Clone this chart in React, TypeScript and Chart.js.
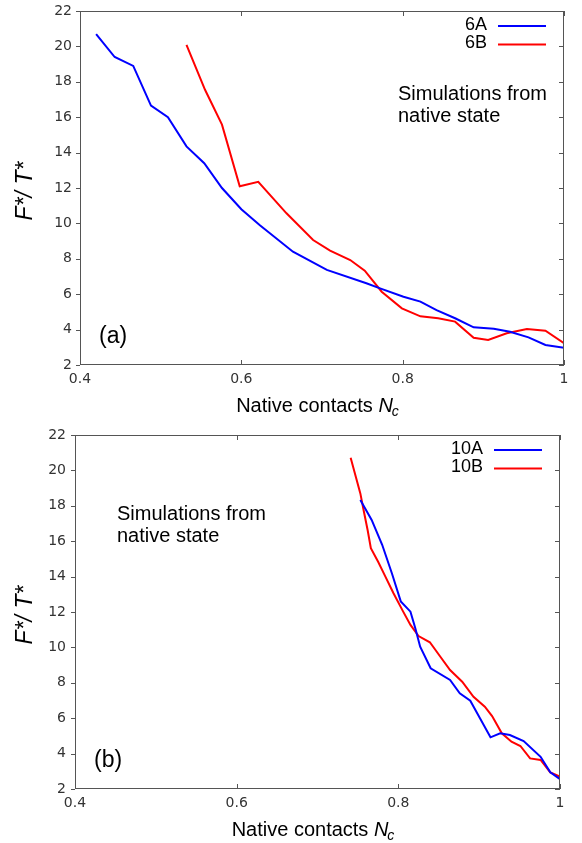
import React, { useEffect, useRef } from "react";
import { Chart, registerables } from "chart.js";
Chart.register(...registerables);

// ---- tick labels ----
const xTicks = [0.4, 0.6, 0.8, 1];
const yTicks = [2, 4, 6, 8, 10, 12, 14, 16, 18, 20, 22];

// ---- panel (a) ----
const nc6A = [0.42, 0.443, 0.466, 0.488, 0.509, 0.532, 0.554, 0.576, 0.6, 0.623, 0.664, 0.706, 0.755, 0.772, 0.801, 0.822, 0.842, 0.865, 0.888, 0.913, 0.933, 0.956, 0.977, 1.0];
const f6A = [20.7, 19.4, 18.9, 16.65, 16.0, 14.35, 13.4, 12.0, 10.8, 9.9, 8.4, 7.37, 6.62, 6.33, 5.86, 5.58, 5.1, 4.64, 4.13, 4.05, 3.88, 3.56, 3.13, 2.98];
const nc6B = [0.532, 0.555, 0.576, 0.598, 0.621, 0.656, 0.689, 0.71, 0.735, 0.753, 0.774, 0.799, 0.822, 0.844, 0.865, 0.888, 0.906, 0.929, 0.954, 0.977, 1.0];
const f6B = [20.08, 17.55, 15.58, 12.1, 12.35, 10.57, 9.06, 8.46, 7.93, 7.33, 6.14, 5.2, 4.75, 4.64, 4.45, 3.54, 3.41, 3.79, 4.03, 3.94, 3.23];

// ---- panel (b) ----
const nc10A = [0.753, 0.767, 0.78, 0.792, 0.803, 0.815, 0.821, 0.827, 0.84, 0.864, 0.876, 0.889, 0.901, 0.914, 0.926, 0.938, 0.955, 0.976, 0.988, 1.0];
const f10A = [18.33, 17.2, 15.8, 14.19, 12.6, 12.02, 11.08, 10.04, 8.82, 8.16, 7.41, 6.99, 6.0, 4.92, 5.15, 5.05, 4.71, 3.82, 2.94, 2.56];
const nc10B = [0.741, 0.753, 0.757, 0.762, 0.766, 0.775, 0.784, 0.794, 0.806, 0.815, 0.825, 0.839, 0.852, 0.864, 0.879, 0.893, 0.907, 0.916, 0.928, 0.94, 0.951, 0.963, 0.976, 0.988, 1.0];
const f10B = [20.72, 18.7, 17.76, 16.63, 15.6, 14.84, 14.0, 13.06, 12.02, 11.27, 10.64, 10.29, 9.47, 8.72, 8.06, 7.21, 6.65, 6.12, 5.15, 4.67, 4.43, 3.73, 3.64, 2.94, 2.7];

// ---- texts ----
const seriesNamesA = ["6A", "6B"];
const seriesNamesB = ["10A", "10B"];
const panelLabels = ["(a)", "(b)"];
const noteLines = ["Simulations from", "native state"];
const yTitle = "F*/ T*";
const xTitleMain = "Native contacts ";
const xTitleVar = "N";
const xTitleSub = "c";

const SANS = '"Liberation Sans", Arial, sans-serif';

type PanelCfg = {
  height: number;
  topPad: number;
  rightPad: number;
  yW: number;
  xH: number;
  names: string[];
  xs: number[][];
  ys: number[][];
  label: string;
  noteDx: number; // from chartArea.left
  noteDy: number; // from chartArea.top
  yPad: number;
};

const decorPlugin = (cfg: PanelCfg) => ({
  id: "decor",
  afterDraw(chart: any) {
    const ctx: CanvasRenderingContext2D = chart.ctx;
    const a = chart.chartArea;
    const xs = chart.scales.x;
    const ys = chart.scales.y;
    ctx.save();
    // frame
    ctx.strokeStyle = "#555";
    ctx.lineWidth = 1;
    ctx.strokeRect(Math.round(a.left) + 0.5, Math.round(a.top) + 0.5, Math.round(a.right - a.left) - 1, Math.round(a.bottom - a.top) - 1);
    ctx.beginPath();
    xTicks.forEach((v) => {
      const p = Math.round(xs.getPixelForValue(v)) + 0.5;
      ctx.moveTo(p, a.bottom);
      ctx.lineTo(p, a.bottom - 5);
      ctx.moveTo(p, a.top);
      ctx.lineTo(p, a.top + 5);
    });
    yTicks.forEach((v) => {
      const p = Math.round(ys.getPixelForValue(v)) + 0.5;
      ctx.moveTo(a.left, p);
      ctx.lineTo(a.left - 4, p);
      ctx.moveTo(a.right, p);
      ctx.lineTo(a.right - 5, p);
    });
    ctx.stroke();

    // legend
    ctx.font = `18px ${SANS}`;
    ctx.textAlign = "right";
    ctx.textBaseline = "middle";
    chart.data.datasets.forEach((ds: any, i: number) => {
      const cy = a.top + 14 + i * 18.5;
      ctx.fillStyle = "#000";
      ctx.fillText(ds.label, a.right - 77, cy);
      ctx.strokeStyle = ds.borderColor;
      ctx.lineWidth = 2;
      ctx.beginPath();
      ctx.moveTo(a.right - 66, cy + 1);
      ctx.lineTo(a.right - 18, cy + 1);
      ctx.stroke();
    });

    // note
    ctx.font = `20px ${SANS}`;
    ctx.textAlign = "left";
    ctx.fillStyle = "#000";
    noteLines.forEach((t, i) => {
      ctx.fillText(t, a.left + cfg.noteDx, a.top + cfg.noteDy + i * 22.5);
    });

    // panel label
    ctx.font = `23px ${SANS}`;
    ctx.fillText(cfg.label, a.left + 19, a.bottom - 28);

    // y title
    ctx.save();
    ctx.translate(26, (a.top + a.bottom) / 2 + 3);
    ctx.rotate(-Math.PI / 2);
    ctx.font = `italic 23px ${SANS}`;
    ctx.textAlign = "center";
    ctx.fillText(yTitle, 0, 0);
    ctx.restore();

    // x title
    const fMain = `20px ${SANS}`;
    const fVar = `italic 20px ${SANS}`;
    const fSub = `italic 14px ${SANS}`;
    ctx.font = fMain;
    const w1 = ctx.measureText(xTitleMain).width;
    ctx.font = fVar;
    const w2 = ctx.measureText(xTitleVar).width;
    ctx.font = fSub;
    const w3 = ctx.measureText(xTitleSub).width;
    const total = w1 + w2 + w3;
    let x0 = (a.left + a.right) / 2 - 4 - total / 2;
    const yBase = a.bottom + 47;
    ctx.textAlign = "left";
    ctx.textBaseline = "alphabetic";
    ctx.font = fMain;
    ctx.fillText(xTitleMain, x0, yBase);
    x0 += w1;
    ctx.font = fVar;
    ctx.fillText(xTitleVar, x0, yBase);
    x0 += w2;
    ctx.font = fSub;
    ctx.fillText(xTitleSub, x0 - 1, yBase + 4);
    ctx.restore();
  },
});

function Panel({ cfg }: { cfg: PanelCfg }) {
  const ref = useRef<HTMLCanvasElement | null>(null);
  useEffect(() => {
    if (!ref.current) return;
    const colors = ["#0000ff", "#ff0000"];
    const chart = new Chart(ref.current, {
      type: "line",
      data: {
        datasets: cfg.names.map((n, i) => ({
          label: n,
          data: cfg.xs[i].map((x, j) => ({ x, y: cfg.ys[i][j] })),
          borderColor: colors[i],
          backgroundColor: colors[i],
          borderWidth: 2,
          pointRadius: 0,
          tension: 0,
          fill: false,
        })),
      },
      options: {
        responsive: false,
        animation: false,
        devicePixelRatio: 1,
        layout: { padding: { top: cfg.topPad, right: cfg.rightPad, left: 0, bottom: 0 } },
        plugins: { legend: { display: false }, tooltip: { enabled: false }, title: { display: false } },
        scales: {
          x: {
            type: "linear",
            min: 0.4,
            max: 1,
            grid: { display: false },
            border: { display: false },
            afterBuildTicks: (s: any) => {
              s.ticks = xTicks.map((v) => ({ value: v }));
            },
            afterFit: (s: any) => {
              s.height = cfg.xH;
            },
            ticks: {
              font: { family: "DejaVu Sans", size: 14 },
              color: "#333",
              padding: -2,
              maxRotation: 0,
              autoSkip: false,
              callback: (v: any) => String(v),
            },
          },
          y: {
            type: "linear",
            min: 2,
            max: 22,
            grid: { display: false },
            border: { display: false },
            afterBuildTicks: (s: any) => {
              s.ticks = yTicks.map((v) => ({ value: v }));
            },
            afterFit: (s: any) => {
              s.width = cfg.yW;
            },
            ticks: {
              font: { family: "DejaVu Sans", size: 14 },
              color: "#333",
              padding: cfg.yPad,
              autoSkip: false,
              callback: (v: any) => String(v),
            },
          },
        },
      } as any,
      plugins: [decorPlugin(cfg)],
    });
    return () => chart.destroy();
  }, [cfg]);
  return <canvas ref={ref} width={582} height={cfg.height} style={{ display: "block", width: 582, height: cfg.height }} />;
}

const cfgA: PanelCfg = {
  height: 421,
  topPad: 11,
  rightPad: 18,
  yW: 80,
  xH: 56,
  names: seriesNamesA,
  xs: [nc6A, nc6B],
  ys: [f6A, f6B],
  label: panelLabels[0],
  noteDx: 318,
  noteDy: 83,
  yPad: 0,
};

const cfgB: PanelCfg = {
  height: 422,
  topPad: 14,
  rightPad: 22,
  yW: 75,
  xH: 54,
  names: seriesNamesB,
  xs: [nc10A, nc10B],
  ys: [f10A, f10B],
  label: panelLabels[1],
  noteDx: 42,
  noteDy: 79,
  yPad: 1,
};

export default function App() {
  return (
    <div style={{ position: "absolute", left: 0, top: 0, width: 582, height: 843, background: "#fff" }}>
      <Panel cfg={cfgA} />
      <Panel cfg={cfgB} />
    </div>
  );
}
